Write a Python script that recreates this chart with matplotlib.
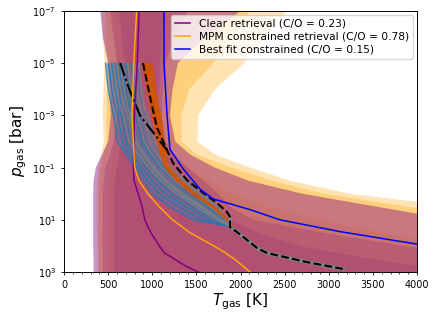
import numpy as np
import matplotlib.pyplot as plt

# pressure grid for the envelopes [bar]
p_env = [1e-7, 1e-6, 1e-5, 1e-4, 1e-3, 1e-2, 10**-1.5, 1e-1, 10**-0.5, 1e0, 10**0.5,
         1e1, 10**1.5, 1e2, 10**2.5, 1e3]

# MPM constrained retrieval envelopes (outer -> inner)
mpm_lo = [[430, 440, 460, 445, 440, 450, 420, 390, 375, 370, 370, 370, 375, 375, 380, 380],
          [470, 480, 500, 490, 480, 480, 450, 420, 400, 395, 395, 395, 395, 395, 395, 395],
          [560, 580, 600, 600, 590, 580, 560, 540, 520, 510, 500, 500, 500, 500, 500, 500]]
mpm_hi = [[2520, 2270, 2040, 1710, 1520, 1510, 1710, 2110, 2560, 3240, 4450, 5500, 6000, 6000, 6000, 6000],
          [2110, 1900, 1690, 1420, 1330, 1330, 1500, 1900, 2350, 2950, 3900, 5000, 6000, 6000, 6000, 6000],
          [1300, 1200, 1100, 1050, 1050, 1080, 1200, 1400, 1650, 1900, 2300, 2900, 3600, 4500, 5500, 6000]]

# clear retrieval envelopes (outer -> inner)
clr_lo = [[410, 440, 500, 520, 530, 500, 430, 360, 335, 330, 330, 330, 330, 330, 335, 335],
          [520, 560, 600, 620, 600, 560, 520, 470, 450, 440, 440, 440, 440, 440, 440, 440],
          [620, 650, 680, 690, 680, 650, 620, 590, 570, 560, 560, 560, 560, 560, 560, 560]]
clr_hi = [[2000, 1600, 1290, 1230, 1200, 1260, 1430, 1710, 2090, 2700, 3550, 4400, 5500, 6000, 6000, 6000],
          [1400, 1250, 1150, 1120, 1110, 1150, 1250, 1400, 1580, 1750, 1880, 2150, 2950, 3850, 5000, 6000],
          [1150, 1100, 1080, 1070, 1060, 1080, 1150, 1250, 1400, 1550, 1750, 1900, 2200, 2700, 3500, 4500]]

# median profiles
p_med = [1e-7, 1e-5, 1e-3, 1e-1, 10**-0.5, 1e0, 10**0.5, 1e1, 10**1.5, 1e2, 10**2.25, 10**2.5,
         10**2.75, 1e3]
t_clear = [850, 830, 797, 786, 793, 840, 885, 915, 985, 1080, 1133, 1250, 1370, 1520]
t_mpm = [823, 790, 770, 800, 850, 950, 1080, 1230, 1430, 1700, 1820, 1930, 2020, 2107]
p_best = [1e-7, 1e-5, 1e-3, 10**-1.7, 10**-0.95, 10**-0.18, 10**0.2, 10**0.6, 1e1, 10**1.45,
          10**1.93, 10**2.4]
t_best = [1133, 1133, 1167, 1200, 1350, 1540, 1690, 2100, 2448, 3127, 4000, 5000]

# forward model profiles
p_fm = [1e-5, 1e-4, 10**-3.3, 1e-3, 1e-2, 10**-1.5, 1e-1, 10**-0.5, 1e0, 10**0.5, 1e1, 10**1.25]
fm_blue = [[470, 500, 540, 560, 600, 700, 800, 900, 1000, 1200, 1460, 1860],
           [500, 540, 580, 610, 660, 740, 840, 950, 1080, 1300, 1560, 1870],
           [540, 580, 620, 650, 700, 780, 880, 1000, 1150, 1380, 1640, 1880],
           [580, 620, 650, 690, 750, 830, 930, 1060, 1220, 1450, 1700, 1880],
           [620, 660, 700, 730, 800, 880, 990, 1120, 1300, 1520, 1750, 1890],
           [660, 700, 740, 770, 840, 930, 1040, 1180, 1360, 1580, 1790, 1890],
           [700, 740, 780, 810, 880, 970, 1090, 1240, 1420, 1630, 1820, 1900],
           [760, 790, 820, 850, 920, 1010, 1130, 1290, 1480, 1680, 1840, 1900]]
fm_grey = [[560, 600, 640, 680, 740, 840, 960, 1100, 1280, 1500, 1720, 1880],
           [640, 680, 720, 760, 830, 920, 1030, 1170, 1350, 1570, 1780, 1890],
           [720, 760, 800, 840, 910, 1000, 1110, 1260, 1450, 1660, 1830, 1900],
           [800, 830, 860, 900, 970, 1060, 1170, 1330, 1520, 1710, 1850, 1900],
           [850, 880, 910, 950, 1030, 1110, 1210, 1370, 1560, 1740, 1860, 1910],
           [600, 640, 690, 730, 800, 890, 1000, 1140, 1320, 1540, 1760, 1880]]
fm_orange = [[900, 940, 980, 1000, 1060, 1100, 1150, 1280, 1450, 1680, 1850, 1900],
             [930, 970, 1010, 1030, 1080, 1120, 1170, 1300, 1470, 1690, 1850, 1900],
             [960, 1000, 1040, 1060, 1100, 1140, 1190, 1320, 1490, 1700, 1860, 1910],
             [910, 960, 1000, 1020, 1070, 1110, 1160, 1290, 1460, 1685, 1850, 1900]]

# mean profiles (black)
p_dd = [1e-5, 1e-4, 1e-3, 1e-2, 10**-1.67]
t_dd = [635, 740, 860, 1090, 1167]
p_da = [1e-5, 10**-3.7, 10**-2.56, 10**-1.67, 10**-1.18, 10**-0.52, 10**-0.03, 10**0.36, 10**0.7,
        10**0.89, 10**1.28, 10**1.47, 10**1.77, 10**2.08, 10**2.27, 10**2.62, 10**2.88]
t_da = [895, 975, 1050, 1167, 1235, 1394, 1575, 1734, 1847, 1881, 1881, 1960, 2074, 2187, 2300,
        2754, 3161]

fig = plt.figure(figsize=(4.4, 3.22), dpi=100)
ax = fig.add_axes([0.1455, 0.155, 0.8025, 0.811])

for lo, hi, a in zip(mpm_lo, mpm_hi, [0.3, 0.3, 0.2]):
    ax.fill_betweenx(p_env, lo, hi, color='orange', alpha=a, lw=0)
for lo, hi, a in zip(clr_lo, clr_hi, [0.42, 0.2, 0.12]):
    ax.fill_betweenx(p_env, lo, hi, color='purple', alpha=a, lw=0)

# spread of the forward models
fm_all = np.array(fm_blue + fm_grey)
ax.fill_betweenx(p_fm, fm_all.min(axis=0), fm_all.max(axis=0), color='#3f7fa6', alpha=0.45, lw=0)
fm_or = np.array(fm_orange)
ax.fill_betweenx(p_fm[:6], fm_or.min(axis=0)[:6], fm_or.max(axis=0)[:6] + 40, color='#d35400',
                 alpha=0.85, lw=0)
for t in fm_blue:
    ax.plot(t, p_fm, color='#1f77b4', lw=1.0, alpha=0.8)
for t in fm_grey:
    ax.plot(t, p_fm, color='grey', lw=1.1, alpha=0.9)
for t in fm_orange:
    ax.plot(t, p_fm, color='#d35400', lw=1.1, alpha=0.9)

ax.plot(t_da[9:], p_da[9:], color='grey', lw=2.8)
ax.plot(t_dd, p_dd, color='k', lw=1.5, ls='-.')
ax.plot(t_da, p_da, color='k', lw=1.5, ls='--')

ax.plot(t_clear, p_med, color='purple', lw=1.1, label='Clear retrieval (C/O = 0.23)')
ax.plot(t_mpm, p_med, color='orange', lw=1.1, label='MPM constrained retrieval (C/O = 0.78)')
ax.plot(t_best, p_best, color='blue', lw=1.1, label='Best fit constrained (C/O = 0.15)')

ax.set_yscale('log')
ax.set_ylim(1e3, 1e-7)
ax.set_xlim(0, 4000)
ax.set_yticks([1e-7, 1e-5, 1e-3, 1e-1, 1e1, 1e3])
ax.yaxis.set_minor_locator(plt.NullLocator())
ax.set_xticks(np.arange(0, 4001, 500))
ax.set_xticks(np.arange(0, 4001, 100), minor=True)
ax.tick_params(labelsize=6.9, length=2.4, width=0.6)
ax.tick_params(which='minor', length=1.4, width=0.5)
for s in ax.spines.values():
    s.set_linewidth(0.7)
ax.set_xlabel(r'$T_{\rm gas}$ [K]', fontsize=11, labelpad=1)
ax.set_ylabel(r'$p_{\rm gas}$ [bar]', fontsize=11, labelpad=2)
ax.legend(loc='upper right', fontsize=7.7, handlelength=1.4, borderaxespad=0.35,
          labelspacing=0.25, framealpha=0.8)

fig.savefig('out.png', dpi=100)
